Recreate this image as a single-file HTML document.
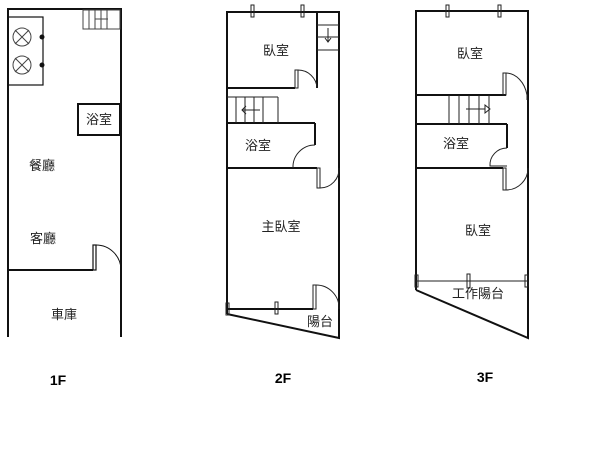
<!DOCTYPE html>
<html><head><meta charset="utf-8"><style>
html,body{margin:0;padding:0;background:#fff;width:600px;height:450px;overflow:hidden}
text{font-family:"Liberation Sans","Noto Sans CJK TC",sans-serif;fill:#222}
</style></head><body>
<svg width="600" height="450" viewBox="0 0 600 450" xmlns="http://www.w3.org/2000/svg">
<g stroke="#111" fill="none" stroke-width="2">
<!-- 1F -->
<polyline points="8,337 8,9 121,9 121,337"/>
<line x1="8" y1="270" x2="93" y2="270"/>
<rect x="93" y="245" width="3" height="25" stroke-width="1.2"/>
<path d="M96,245 A25,25 0 0 1 121,270" stroke-width="1"/>
<rect x="78" y="104" width="42" height="31"/>
<rect x="8" y="17" width="35" height="68" stroke-width="1.2"/>
</g>
<g stroke="#444" fill="none" stroke-width="1">
<rect x="83" y="10" width="37" height="19"/>
<line x1="89" y1="10" x2="89" y2="29"/><line x1="95" y1="10" x2="95" y2="29"/><line x1="101" y1="10" x2="101" y2="29"/><line x1="107" y1="10" x2="107" y2="29"/>
<line x1="95" y1="19" x2="108" y2="19"/>
<circle cx="22" cy="37" r="9"/><circle cx="22" cy="65" r="9"/>
<path d="M15,30 L29,44 M29,30 L15,44 M15,58 L29,72 M29,58 L15,72"/>
</g>
<circle cx="42" cy="37" r="2.5" fill="#111"/><circle cx="42" cy="65" r="2.5" fill="#111"/>
<text x="99" y="124" font-size="13" text-anchor="middle">浴室</text>
<text x="42" y="170" font-size="13" text-anchor="middle">餐廳</text>
<text x="43" y="243" font-size="13" text-anchor="middle">客廳</text>
<text x="64" y="319" font-size="13" text-anchor="middle">車庫</text>

<!-- 2F -->
<g stroke="#111" fill="none" stroke-width="2">
<polyline points="227,314 227,12 339,12 339,338 227,314"/>
<line x1="227" y1="88" x2="295" y2="88"/>
<line x1="317" y1="12" x2="317" y2="88"/>
<line x1="227" y1="123" x2="315" y2="123"/>
<line x1="315" y1="123" x2="315" y2="145"/>
<line x1="227" y1="168" x2="317" y2="168"/>
<line x1="227" y1="309" x2="313" y2="309"/>
</g>
<g stroke="#222" fill="none" stroke-width="1">
<rect x="295" y="70" width="3" height="18"/>
<path d="M298,70 A19,19 0 0 1 317,88"/>
<path d="M293,168 A22,22 0 0 1 315,145"/>
<rect x="317" y="168" width="3" height="20"/>
<path d="M320,188 A19,19 0 0 0 339,168"/>
<rect x="313" y="285" width="3" height="24"/>
<path d="M316,285 A23,23 0 0 1 339,309"/>
<line x1="317" y1="25" x2="339" y2="25"/><line x1="317" y1="37" x2="339" y2="37"/><line x1="317" y1="50" x2="339" y2="50"/>
<path d="M328,28 V42 M325,38 L328,42 L331,38"/>
<line x1="227" y1="97" x2="278" y2="97"/>
<line x1="278" y1="97" x2="278" y2="123"/>
<line x1="236" y1="97" x2="236" y2="123"/><line x1="245" y1="97" x2="245" y2="123"/><line x1="254" y1="97" x2="254" y2="123"/><line x1="263" y1="97" x2="263" y2="123"/>
<path d="M260,110 H242 M246,106 L242,110 L246,114"/>
<rect x="251" y="5" width="3" height="12"/><rect x="301" y="5" width="3" height="12"/>
<rect x="226" y="303" width="3" height="12"/><rect x="275" y="302" width="3" height="12"/>
</g>
<text x="276" y="55" font-size="13" text-anchor="middle">臥室</text>
<text x="258" y="150" font-size="13" text-anchor="middle">浴室</text>
<text x="281" y="231" font-size="13" text-anchor="middle">主臥室</text>
<text x="320" y="326" font-size="13" text-anchor="middle">陽台</text>

<!-- 3F -->
<g stroke="#111" fill="none" stroke-width="2">
<polyline points="416,290 416,11 528,11 528,338 416,290"/>
<line x1="416" y1="95" x2="506" y2="95"/>
<line x1="416" y1="124" x2="507" y2="124"/>
<line x1="507" y1="124" x2="507" y2="148"/>
<line x1="416" y1="168" x2="503" y2="168"/>
</g>
<g stroke="#222" fill="none" stroke-width="1">
<rect x="503" y="73" width="3" height="22"/>
<path d="M506,73 A22,28 0 0 1 527,95 L527,100"/>
<path d="M507,148 A17,17 0 0 0 490,166 L507,166"/>
<rect x="503" y="168" width="3" height="22"/>
<path d="M506,190 A22,22 0 0 0 528,168"/>
<line x1="449" y1="95" x2="449" y2="124"/><line x1="459" y1="95" x2="459" y2="124"/><line x1="469" y1="95" x2="469" y2="124"/><line x1="479" y1="95" x2="479" y2="124"/><line x1="489" y1="95" x2="489" y2="124"/>
<path d="M466,109 H485 M485,105 L490,109 L485,113 Z"/>
<line x1="416" y1="281" x2="528" y2="281"/>
<rect x="415" y="275" width="3" height="12"/><rect x="467" y="274" width="3" height="14"/><rect x="525" y="275" width="3" height="12"/>
<rect x="446" y="5" width="3" height="12"/><rect x="498" y="5" width="3" height="12"/>
</g>
<text x="470" y="58" font-size="13" text-anchor="middle">臥室</text>
<text x="456" y="148" font-size="13" text-anchor="middle">浴室</text>
<text x="478" y="235" font-size="13" text-anchor="middle">臥室</text>
<text x="478" y="298" font-size="13" text-anchor="middle">工作陽台</text>

<text x="58" y="385" font-size="14" font-weight="bold" text-anchor="middle" style="fill:#000">1F</text>
<text x="283" y="383" font-size="14" font-weight="bold" text-anchor="middle" style="fill:#000">2F</text>
<text x="485" y="382" font-size="14" font-weight="bold" text-anchor="middle" style="fill:#000">3F</text>
</svg>
</body></html>
